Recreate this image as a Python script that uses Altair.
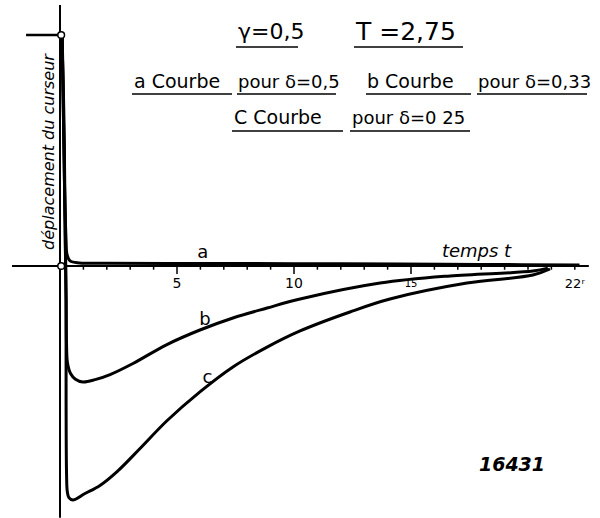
import altair as alt
import pandas as pd

# ---------------- data ----------------
a_t = [0.09, 0.17, 0.21, 0.26, 0.30, 0.43, 0.85, 2.0, 6.0, 10.0, 14.5, 18.0, 22.2]
a_y = [1.0, 0.63, 0.29, 0.11, 0.05, 0.022, 0.013, 0.012, 0.011, 0.010, 0.009, 0.007, 0.004]

b_t = [0.09, 0.17, 0.26, 0.28, 0.32, 0.45, 0.66, 0.98, 1.50, 2.14, 3.12, 4.57, 5.98,
       7.39, 8.85, 10.26, 13.68, 16.67, 20.21, 20.85]
b_y = [1.0, 0.50, -0.147, -0.342, -0.420, -0.465, -0.490, -0.502, -0.492, -0.470, -0.422,
       -0.340, -0.277, -0.225, -0.182, -0.143, -0.074, -0.043, -0.022, -0.009]

c_t = [0.09, 0.17, 0.26, 0.26, 0.28, 0.31, 0.38, 0.55, 1.07, 1.71, 2.44, 3.42, 4.57, 5.98,
       7.39, 8.85, 10.26, 12.39, 14.10, 17.39, 20.21, 20.94]
c_y = [1.0, 0.50, -0.147, -0.580, -0.900, -0.975, -1.003, -1.013, -0.985, -0.950, -0.890,
       -0.790, -0.670, -0.545, -0.437, -0.351, -0.281, -0.199, -0.143, -0.074, -0.039, -0.013]

pre_t = [-1.45, 0.09]          # initial displacement before t = 0
pre_y = [1.0, 1.0]

minor_ticks = list(range(1, 23))
major_ticks = [5, 10, 15]
tick_vals = [5, 10, 15, 22]
tick_texts = ["5", "10", "15", "22ʳ"]

curve_names = ["a", "b", "c"]
curve_label_t = [6.1, 6.2, 6.3]
curve_label_y = [0.056, -0.234, -0.485]

# ---------------- layout ----------------
W, H = 600, 518
X0, PX_T = 60, 23.4     # pixel of t=0, pixels per time unit
Y0, PX_Y = 266, 231     # pixel of y=0, pixels per displacement unit
xs = alt.Scale(domain=[-X0 / PX_T, (W - X0) / PX_T], nice=False, zero=False)
ys = alt.Scale(domain=[-(H - Y0) / PX_Y, Y0 / PX_Y], nice=False, zero=False)
FONT = "DejaVu Sans"

rows = []
for name, ts, yv in [("a", a_t, a_y), ("b", b_t, b_y), ("c", c_t, c_y)]:
    for i, (t, y) in enumerate(zip(ts, yv)):
        rows.append({"curve": name, "i": i, "t": t, "y": y})
curves_df = pd.DataFrame(rows)
pre_df = pd.DataFrame({"t": pre_t, "y": pre_y, "i": [0, 1]})

X = lambda f: alt.X(f, scale=xs, axis=None)
Y = lambda f: alt.Y(f, scale=ys, axis=None)

curves = alt.Chart(curves_df).mark_line(color="black", strokeWidth=3, strokeJoin="round",
                                        interpolate="catmull-rom").encode(
    x=X("t:Q"), y=Y("y:Q"), detail="curve:N", order="i:Q")

pre = alt.Chart(pre_df).mark_line(color="black", strokeWidth=2.5).encode(
    x=X("t:Q"), y=Y("y:Q"), order="i:Q")

axes_df = pd.DataFrame({"t": [-2.05, 0.0], "t2": [22.6, 0.0], "y": [0.0, 1.13], "y2": [0.0, -1.09]})
axes = alt.Chart(axes_df).mark_rule(color="black", strokeWidth=2).encode(
    x=X("t:Q"), x2="t2:Q", y=Y("y:Q"), y2="y2:Q")

tick_df = pd.DataFrame({"t": minor_ticks,
                        "len": [-0.035 if t in major_ticks else -0.016 for t in minor_ticks]})
tick_df["z"] = 0.0
ticks = alt.Chart(tick_df).mark_rule(color="black", strokeWidth=1.5).encode(
    x=X("t:Q"), y=Y("z:Q"), y2="len:Q")

tl_df = pd.DataFrame({"t": tick_vals, "label": tick_texts, "size": [14, 14, 10, 13],
                      "dx": [0, 0, -12, 0], "dy": [0, 0, -10, 0]})
tl_df["y"] = -0.078
tick_labels = alt.Chart(tl_df).mark_text(font=FONT, baseline="middle", align="center",
                                          color="black").encode(
    x=X("t:Q"), y=Y("y:Q"), text="label:N",
    size=alt.Size("size:Q", scale=None, legend=None),
    xOffset=alt.XOffset("dx:Q", scale=None), yOffset=alt.YOffset("dy:Q", scale=None))

circ_df = pd.DataFrame({"t": [0.05, 0.05], "y": [1.0, 0.0]})
circles = alt.Chart(circ_df).mark_point(shape="circle", size=45, filled=True, fill="white",
                                        stroke="black", strokeWidth=1.5, opacity=1).encode(
    x=X("t:Q"), y=Y("y:Q"))

cl_df = pd.DataFrame({"t": curve_label_t, "y": curve_label_y, "label": curve_names})
curve_labels = alt.Chart(cl_df).mark_text(font=FONT, fontSize=18, color="black",
                                          baseline="middle").encode(
    x=X("t:Q"), y=Y("y:Q"), text="label:N")

temps = alt.Chart(pd.DataFrame({"t": [17.8], "y": [0.06], "label": ["temps t"]})).mark_text(
    font=FONT, fontSize=18, fontStyle="italic", color="black", baseline="middle").encode(
    x=X("t:Q"), y=Y("y:Q"), text="label:N")

# title texts (pixel layout)
title_df = pd.DataFrame({
    "label": ["γ=0,5", "T =2,75", "a Courbe", "pour δ=0,5", "b Courbe", "pour δ=0,33",
              "C Courbe", "pour δ=0 25"],
    "x": [238, 356, 134, 238, 367, 478, 234, 352],
    "y": [39, 40, 88, 88, 88, 88, 124, 124],
    "size": [22, 25, 19, 18, 19, 18, 19, 18],
})
titles = alt.Chart(title_df).mark_text(font=FONT, align="left", baseline="alphabetic",
                                       color="black").encode(
    x=alt.X("x:Q", scale=None), y=alt.Y("y:Q", scale=None), text="label:N",
    size=alt.Size("size:Q", scale=None, legend=None))

ul_df = pd.DataFrame({
    "x": [236, 354, 132, 237, 366, 477, 232, 350],
    "x2": [298, 463, 232, 336, 471, 587, 343, 470],
    "y": [47, 47, 94, 94, 94, 94, 131, 131],
})
underlines = alt.Chart(ul_df).mark_rule(color="black", strokeWidth=1.5).encode(
    x=alt.X("x:Q", scale=None), x2="x2:Q", y=alt.Y("y:Q", scale=None))

ylabel = alt.Chart(pd.DataFrame({"label": ["déplacement du curseur"]})).mark_text(
    font=FONT, fontSize=16, fontStyle="italic", angle=270, color="black",
    align="center", baseline="middle").encode(
    x=alt.value(49), y=alt.value(152), text="label:N")

ref = alt.Chart(pd.DataFrame({"label": ["16431"]})).mark_text(
    font=FONT, fontSize=19, fontStyle="italic", fontWeight="bold", color="black",
    align="center", baseline="middle").encode(
    x=alt.value(512), y=alt.value(465), text="label:N")

chart = alt.layer(curves, pre, axes, ticks, tick_labels, circles, curve_labels, temps,
                  titles, underlines, ylabel, ref).properties(
    width=W, height=H, autosize=alt.AutoSizeParams(type="none"), padding=0,
    background="white").configure_view(stroke=None)

chart.save("out.html", embed_options={"renderer": "svg", "actions": False})
